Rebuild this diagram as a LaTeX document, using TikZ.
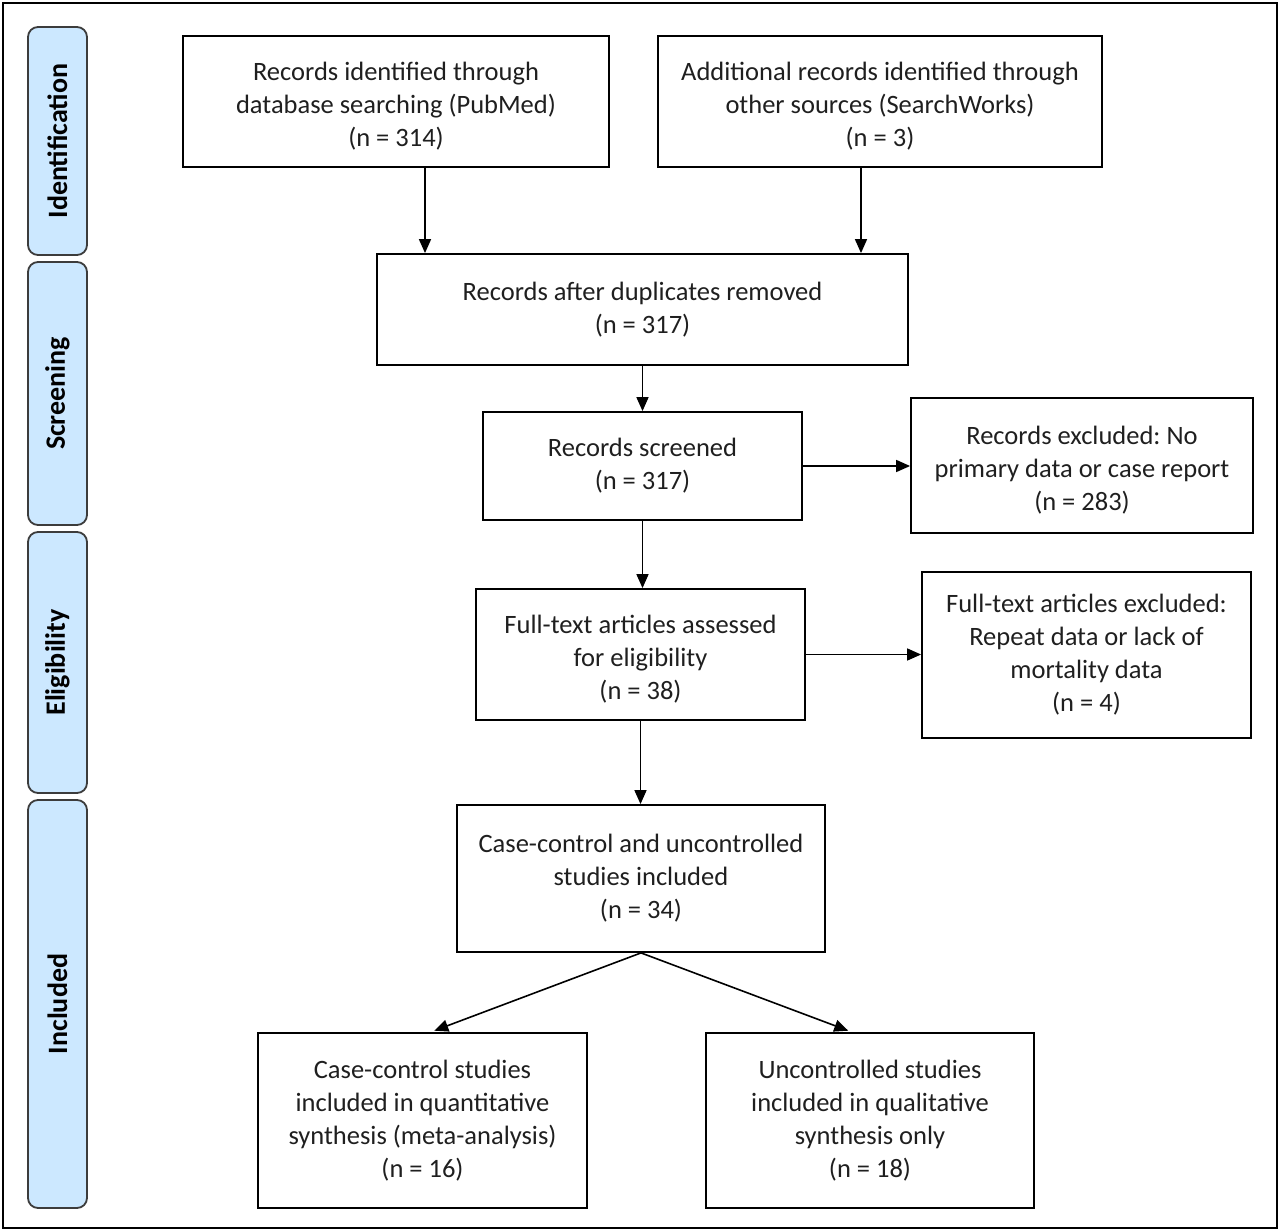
\documentclass[tikz,border=0pt]{standalone}
\usepackage{fontspec}
\setmainfont{Carlito}
\usetikzlibrary{arrows.meta}
\frenchspacing

\definecolor{barblue}{RGB}{204,232,255}
\definecolor{bargray}{RGB}{60,60,60}

% taller first line: pushes a text block a little down in its box
\newcommand{\lowstrut}{\rule{0pt}{27pt}}

\tikzset{
    box/.style={draw, line width=1.8pt, align=center, inner sep=0pt,
        font=\fontsize{26.5}{33}\selectfont, text=black!88},
    bar/.style={draw=bargray, fill=barblue, line width=1.8pt, rounded corners=10pt,
        rotate=90, inner sep=0pt, font=\fontsize{28}{33}\selectfont\bfseries},
    arr/.style={line width=1.6pt, -{Triangle[length=14pt,width=12pt]}}
}

\begin{document}
\begin{tikzpicture}[x=1pt, y=-1pt]
    \useasboundingbox (0,0) rectangle (1280,1231);
    \draw[line width=2.5pt] (3,3) rectangle (1277,1228);

    % phase bars
    \node[bar, minimum width=228, minimum height=59] (bid) at (57.5,141) {Identification};
    \node[bar, minimum width=263, minimum height=59] (bsc) at (57.5,393.5) {Screening};
    \node[bar, minimum width=261, minimum height=59] (bel) at (57.5,662.5) {Eligibility};
    \node[bar, minimum width=408, minimum height=59] (bin) at (57.5,1004) {Included};

    % boxes
    \node[box, minimum width=426, minimum height=131] (rec) at (396,101.5)
        {\lowstrut Records identified through\\database searching (PubMed)\\(n = 314)};
    \node[box, minimum width=444, minimum height=131] (add) at (880,101.5)
        {\lowstrut Additional records identified through\\other sources (SearchWorks)\\(n = 3)};
    \node[box, minimum width=531, minimum height=111] (dup) at (642.5,309.5)
        {Records after duplicates removed\\(n = 317)};
    \node[box, minimum width=319, minimum height=108] (scr) at (642.5,466)
        {Records screened\\(n = 317)};
    \node[box, minimum width=342, minimum height=135] (exc) at (1082,465.5)
        {\lowstrut Records excluded: No\\primary data or case report\\(n = 283)};
    \node[box, minimum width=329, minimum height=131] (full) at (640.5,654.5)
        {\lowstrut Full-text articles assessed\\for eligibility\\(n = 38)};
    \node[box, minimum width=329, minimum height=166] (fexc) at (1086.5,655)
        {Full-text articles excluded:\\Repeat data or lack of\\mortality data\\(n = 4)};
    \node[box, minimum width=368, minimum height=147] (inc) at (641,878.5)
        {Case-control and uncontrolled\\studies included\\(n = 34)};
    \node[box, minimum width=329, minimum height=175] (quant) at (422.5,1120.5)
        {Case-control studies\\included in quantitative\\synthesis (meta-analysis)\\(n = 16)};
    \node[box, minimum width=328, minimum height=175] (qual) at (870,1120.5)
        {Uncontrolled studies\\included in qualitative\\synthesis only\\(n = 18)};

    % arrows
    \draw[arr] ([xshift=29pt]rec.south) -- ([xshift=29pt]rec.south |- dup.north);
    \draw[arr] ([xshift=-19pt]add.south) -- ([xshift=-19pt]add.south |- dup.north);
    \draw[arr] (dup.south) -- (dup.south |- scr.north);
    \draw[arr] (scr.east) -- (scr.east -| exc.west);
    \draw[arr] (scr.south) -- (scr.south |- full.north);
    \draw[arr] (full.east) -- (full.east -| fexc.west);
    \draw[arr] (full.south) -- (full.south |- inc.north);
    \draw[arr, shorten >=4pt] (inc.south) -- ([xshift=8pt]quant.north);
    \draw[arr, shorten >=4pt] (inc.south) -- ([xshift=-18pt]qual.north);
\end{tikzpicture}
\end{document}
